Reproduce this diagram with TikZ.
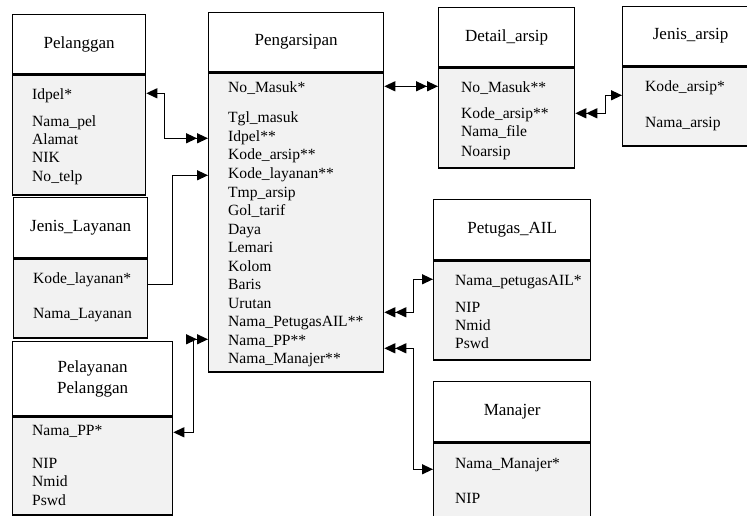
\documentclass[tikz,border=0pt]{standalone}
\usepackage{fontspec}
\setmainfont{Liberation Serif}
\usetikzlibrary{arrows.meta}
\definecolor{bodygray}{HTML}{F2F2F2}
\begin{document}
\begin{tikzpicture}[x=1pt,y=-1pt,
  frame/.style={draw=black, line width=1.3pt, inner sep=0pt, anchor=north west},
  head/.style={frame, fill=white},
  body/.style={frame, fill=bodygray},
  title/.style={font=\fontsize{17}{20}\selectfont, align=center, inner sep=0pt},
  attr/.style={font=\fontsize{15.6}{18}\selectfont, anchor=base west, inner sep=0pt},
  link/.style={line width=1.3pt},
  one-one/.style={link, arrows={Triangle[length=11pt,width=10pt]-Triangle[length=11pt,width=10pt]}},
  one-many/.style={link, arrows={Triangle[length=11pt,width=10pt]-{Triangle[length=11pt,width=10pt] Triangle[length=11pt,width=10pt]}}},
  many-one/.style={link, arrows={{Triangle[length=11pt,width=10pt] Triangle[length=11pt,width=10pt]}-Triangle[length=11pt,width=10pt]}},
  to-one/.style={link, arrows={-Triangle[length=11pt,width=10pt]}}
]
\clip (0,0) rectangle (747,516);
\useasboundingbox (0,0) rectangle (747,516);

% Pelanggan
\node[head, minimum width=133, minimum height=59] (pel-h) at (12,14) {};
\node[body, minimum width=133, minimum height=120] (pel-b) at (pel-h.south west) {};
\node[title] (pel-t) at (pel-h.center) {Pelanggan};
\node[attr] (pel-a1) at (32,100) {Idpel*};
\node[attr] (pel-a2) at (32,127) {Nama\_pel};
\node[attr] (pel-a3) at (32,145) {Alamat};
\node[attr] (pel-a4) at (32,163) {NIK};
\node[attr] (pel-a5) at (32,182) {No\_telp};

% Jenis_Layanan
\node[head, minimum width=134, minimum height=60] (jl-h) at (13,197) {};
\node[body, minimum width=134, minimum height=79] (jl-b) at (jl-h.south west) {};
\node[title] (jl-t) at (jl-h.center) {Jenis\_Layanan};
\node[attr] (jl-a1) at (33,283) {Kode\_layanan*};
\node[attr] (jl-a2) at (33,318) {Nama\_Layanan};

% Pelayanan Pelanggan
\node[head, minimum width=160, minimum height=74] (pp-h) at (12,341) {};
\node[body, minimum width=160, minimum height=98] (pp-b) at (pp-h.south west) {};
\node[title] (pp-t) at (pp-h.center) {Pelayanan\\[1pt]Pelanggan};
\node[attr] (pp-a1) at (32,435) {Nama\_PP*};
\node[attr] (pp-a2) at (32,468) {NIP};
\node[attr] (pp-a3) at (32,486) {Nmid};
\node[attr] (pp-a4) at (32,505) {Pswd};

% Pengarsipan
\node[head, minimum width=175, minimum height=59] (pen-h) at (208,12) {};
\node[body, minimum width=175, minimum height=299] (pen-b) at (pen-h.south west) {};
\node[title] (pen-t) at (pen-h.center) {Pengarsipan};
\node[attr] (pen-a0) at (228,93) {No\_Masuk*};
\foreach \txt [count=\i from 0] in {Tgl\_masuk, Idpel**, Kode\_arsip**, Kode\_layanan**,
    Tmp\_arsip, Gol\_tarif, Daya, Lemari, Kolom, Baris, Urutan,
    Nama\_PetugasAIL**, Nama\_PP**, Nama\_Manajer**}
  \node[attr] (pen-r\i) at (228,{123+18.5*\i}) {\txt};

% Detail_arsip
\node[head, minimum width=136, minimum height=59] (det-h) at (438,7) {};
\node[body, minimum width=136, minimum height=100] (det-b) at (det-h.south west) {};
\node[title] (det-t) at (det-h.center) {Detail\_arsip};
\node[attr] (det-a1) at (461,93) {No\_Masuk**};
\node[attr] (det-a2) at (461,119) {Kode\_arsip**};
\node[attr] (det-a3) at (461,137) {Nama\_file};
\node[attr] (det-a4) at (461,157) {Noarsip};

% Jenis_arsip
\node[head, minimum width=136, minimum height=59] (ja-h) at (622,6) {};
\node[body, minimum width=136, minimum height=79] (ja-b) at (ja-h.south west) {};
\node[title] (ja-t) at (ja-h.center) {Jenis\_arsip};
\node[attr] (ja-a1) at (645,92) {Kode\_arsip*};
\node[attr] (ja-a2) at (645,128) {Nama\_arsip};

% Petugas_AIL
\node[head, minimum width=157, minimum height=60] (pa-h) at (433,199) {};
\node[body, minimum width=157, minimum height=99] (pa-b) at (pa-h.south west) {};
\node[title] (pa-t) at (pa-h.center) {Petugas\_AIL};
\node[attr] (pa-a1) at (455,285) {Nama\_petugasAIL*};
\node[attr] (pa-a2) at (455,312) {NIP};
\node[attr] (pa-a3) at (455,330) {Nmid};
\node[attr] (pa-a4) at (455,348) {Pswd};

% Manajer
\node[head, minimum width=157, minimum height=60] (man-h) at (433,381) {};
\node[body, minimum width=157, minimum height=99] (man-b) at (man-h.south west) {};
\node[title] (man-t) at (man-h.center) {Manajer};
\node[attr] (man-a1) at (455,468) {Nama\_Manajer*};
\node[attr] (man-a2) at (455,503) {NIP};

% Relationships
\draw[one-many] ([yshift=-19pt]pel-b.north east) -- ++(18,0) |- ([yshift=-66pt]pen-b.north west);
\draw[to-one] ([yshift=-26pt]jl-b.north east) -- ++(24,0) |- ([yshift=-103pt]pen-b.north west);
\draw[one-many] ([yshift=-16pt]pp-b.north east) -- ++(20,0) |- ([yshift=-267pt]pen-b.north west);
\draw[one-many] ([yshift=-14pt]pen-b.north east) -- ([yshift=-19pt]det-b.north west);
\draw[many-one] ([yshift=-46pt]det-b.north east) -- ++(30,0) |- ([yshift=-29pt]ja-b.north west);
\draw[many-one] ([yshift=-240pt]pen-b.north east) -- ++(29,0) |- ([yshift=-19pt]pa-b.north west);
\draw[many-one] ([yshift=-276pt]pen-b.north east) -- ++(29,0) |- ([yshift=-27pt]man-b.north west);
\end{tikzpicture}
\end{document}
